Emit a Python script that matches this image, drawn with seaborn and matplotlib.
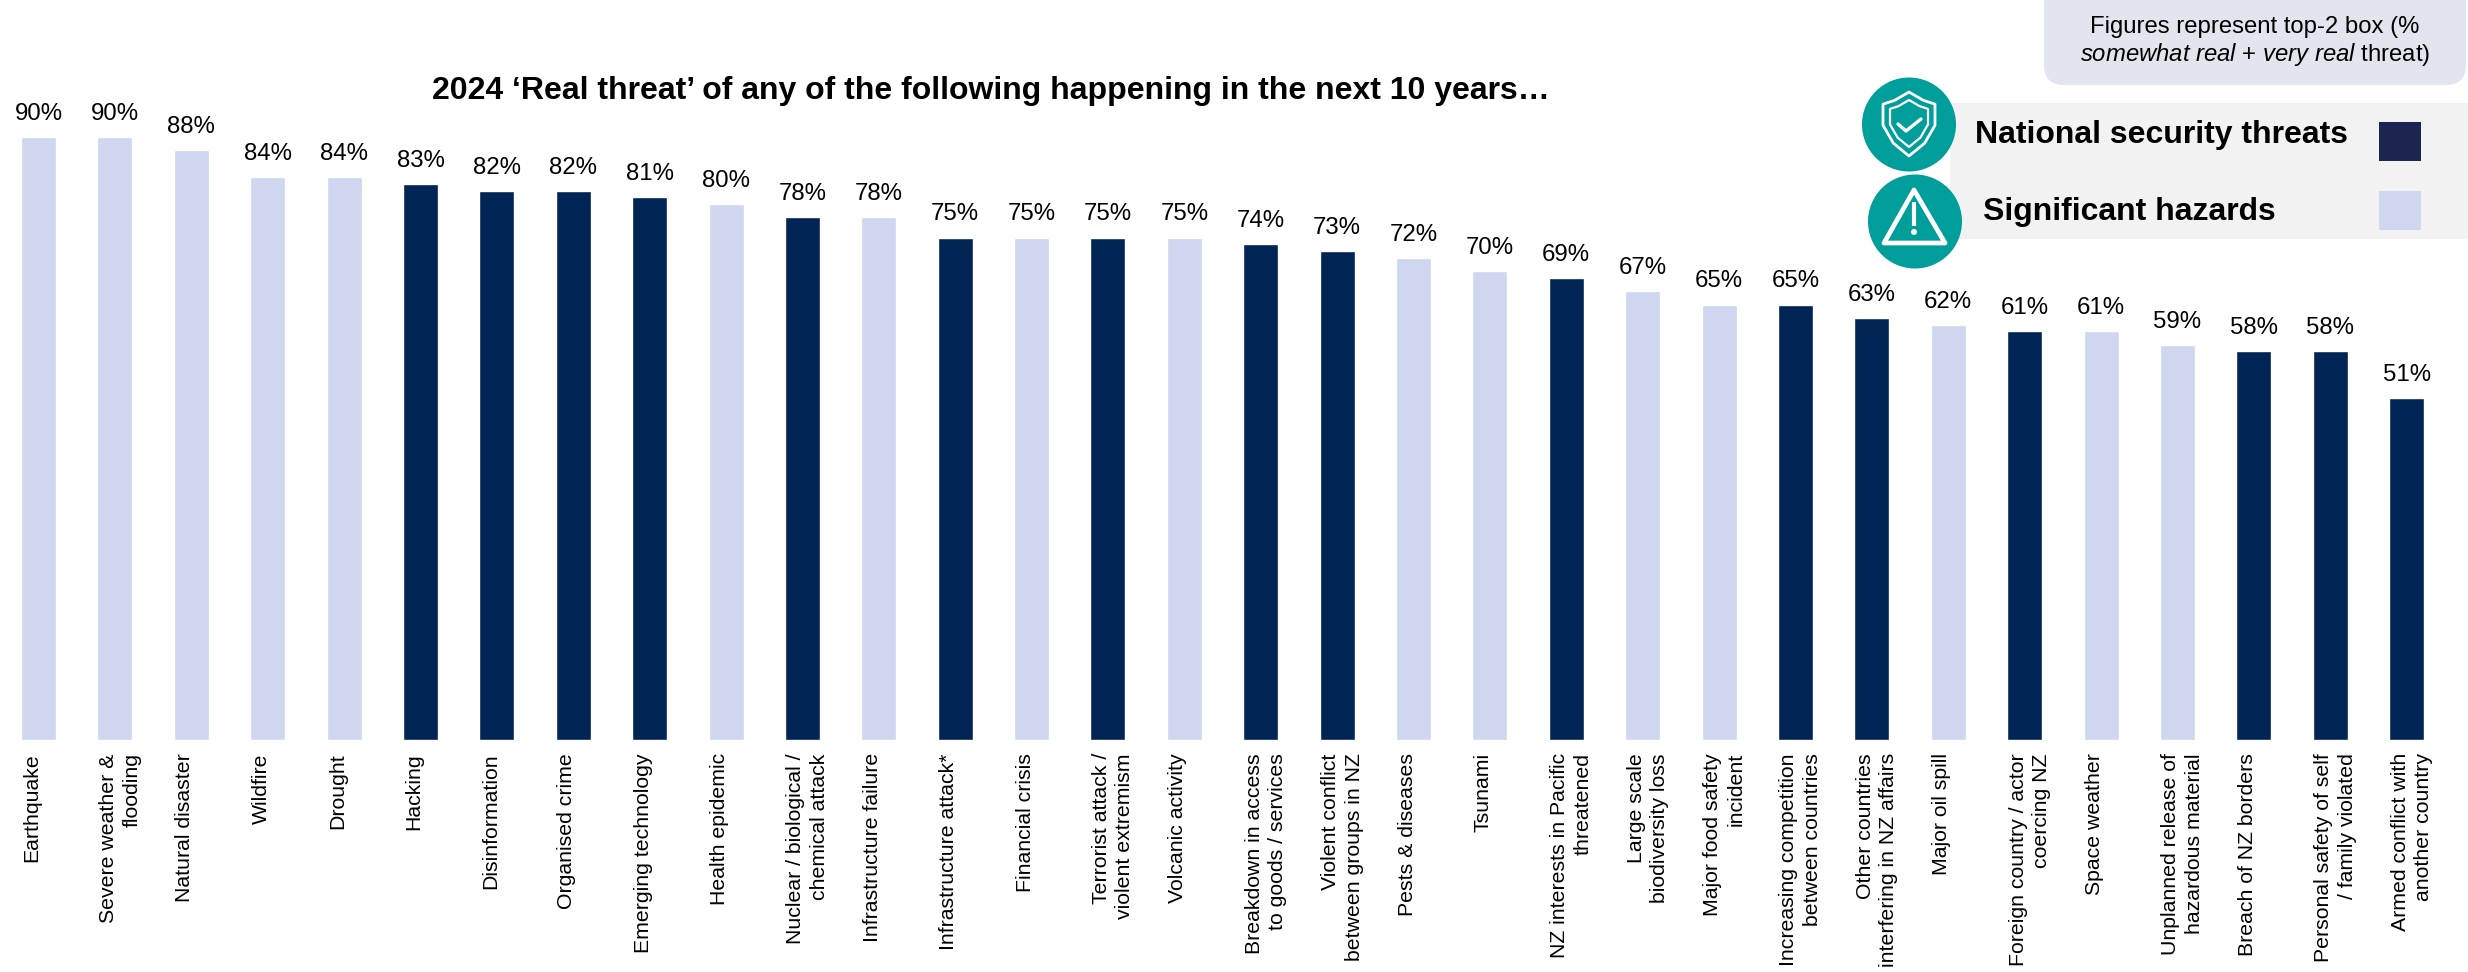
import matplotlib
matplotlib.use("Agg")
import matplotlib.pyplot as plt
import matplotlib.transforms as mtrans
from matplotlib.patches import Circle, FancyBboxPatch, Polygon, Rectangle
import pandas as pd
import seaborn as sns

categories = [
    "Earthquake", "Severe weather &\nflooding", "Natural disaster", "Wildfire", "Drought",
    "Hacking", "Disinformation", "Organised crime", "Emerging technology", "Health epidemic",
    "Nuclear / biological /\nchemical attack", "Infrastructure failure", "Infrastructure attack*",
    "Financial crisis", "Terrorist attack /\nviolent extremism", "Volcanic activity",
    "Breakdown in access\nto goods / services", "Violent conflict\nbetween groups in NZ",
    "Pests & diseases", "Tsunami", "NZ interests in Pacific\nthreatened",
    "Large scale\nbiodiversity loss", "Major food safety\nincident",
    "Increasing competition\nbetween countries", "Other countries\ninterfering in NZ affairs",
    "Major oil spill", "Foreign country / actor\ncoercing NZ", "Space weather",
    "Unplanned release of\nhazardous material", "Breach of NZ borders",
    "Personal safety of self\n/ family violated", "Armed conflict with\nanother country",
]
values = [90, 90, 88, 84, 84, 83, 82, 82, 81, 80, 78, 78, 75, 75, 75, 75,
          74, 73, 72, 70, 69, 67, 65, 65, 63, 62, 61, 61, 59, 58, 58, 51]
THREAT = "National security threats"
HAZARD = "Significant hazards"
groups = [HAZARD, HAZARD, HAZARD, HAZARD, HAZARD, THREAT, THREAT, THREAT, THREAT, HAZARD,
          THREAT, HAZARD, THREAT, HAZARD, THREAT, HAZARD, THREAT, THREAT, HAZARD, HAZARD,
          THREAT, HAZARD, HAZARD, THREAT, THREAT, HAZARD, THREAT, HAZARD, HAZARD, THREAT,
          THREAT, THREAT]
title = "2024 \u2018Real threat\u2019 of any of the following happening in the next 10 years\u2026"

DARK, LIGHT = "#002554", "#CFD6F0"
W, H = 2468, 972

sns.set_theme(style="white")
plt.rcParams["font.family"] = ["Liberation Sans", "DejaVu Sans"]
plt.rcParams["mathtext.fontset"] = "custom"
plt.rcParams["mathtext.it"] = "Liberation Sans:italic"
plt.rcParams["mathtext.rm"] = "Liberation Sans"

df = pd.DataFrame({"category": categories, "value": values, "group": groups})
fig = plt.figure(figsize=(W / 100, H / 100), dpi=100, facecolor="white")

# Plot area fills the canvas width; its floor is the bar baseline.
base_px, per_unit_px, step_px, first_px = 740, 6.7, 76.39, 38.5
ax = fig.add_axes([0, 1 - base_px / H, 1, base_px / H])
sns.barplot(data=df, x="category", y="value", hue="group", dodge=False, width=35 / step_px,
            palette={THREAT: DARK, HAZARD: LIGHT}, legend=False, ax=ax, saturation=1)
ax.set_xlim(-first_px / step_px, (W - first_px) / step_px)
ax.set_ylim(0, base_px / per_unit_px)
ax.set_xlabel("")
ax.set_ylabel("")
ax.set_yticks([])
sns.despine(ax=ax, left=True, bottom=True, top=True, right=True)
ax.patch.set_alpha(0)

for container in ax.containers:
    ax.bar_label(container, fmt="%.0f%%", fontsize=17.3, color="black", padding=8.7)

# Category names read bottom to top, starting near each bar's left edge.
ax.tick_params(axis="x", length=0, pad=9.5)
shift = mtrans.ScaledTranslation(-16 / 100, 0, fig.dpi_scale_trans)
ax.set_xticks(range(len(categories)))
ax.set_xticklabels(categories, rotation=90, ha="left", va="top", ma="right",
                   fontsize=15.3, color="black", linespacing=1.3)
for lab in ax.get_xticklabels():
    lab.set_transform(lab.get_transform() + shift)

# Overlay in canvas pixels for the heading, note and legend panel.
ov = fig.add_axes([0, 0, 1, 1], zorder=5)
ov.set_xlim(0, W)
ov.set_ylim(H, 0)
ov.axis("off")

ov.text(991, 99, title, ha="center", va="baseline", fontsize=23, fontweight="bold", color="black")

ov.add_patch(FancyBboxPatch((2044, -40), 422, 125, boxstyle="round,pad=0,rounding_size=20",
                            fc="#E2E5EE", ec="none"))
ov.text(2255, 33, "Figures represent top-2 box (%", ha="center", va="baseline",
        fontsize=17.2, color="black")
ov.text(2255, 61, r"$\mathit{somewhat\ real}$ + $\mathit{very\ real}$ threat)", ha="center",
        va="baseline", fontsize=17.2, color="black", math_fontfamily="custom")

ov.add_patch(Rectangle((1950, 103), 520, 136, fc="#F2F2F2", ec="none"))
ov.text(1975, 143, THREAT, ha="left", va="baseline", fontsize=23, fontweight="bold", color="black")
ov.text(1983, 220, HAZARD, ha="left", va="baseline", fontsize=23, fontweight="bold", color="black")
ov.add_patch(Rectangle((2379, 122), 42, 39, fc="#1B2550", ec="none"))
ov.add_patch(Rectangle((2379, 191), 42, 39, fc=LIGHT, ec="none"))

TEAL = "#009E9A"
ov.add_patch(Circle((1909, 124.5), 47, fc=TEAL, ec="none"))
ov.add_patch(Circle((1915, 221.5), 47, fc=TEAL, ec="none"))


def shield(cx, top, half, height):
    return [(cx, top), (cx + half * 0.55, top + height * 0.13), (cx + half, top + height * 0.19),
            (cx + half, top + height * 0.52), (cx + half * 0.6, top + height * 0.8),
            (cx, top + height), (cx - half * 0.6, top + height * 0.8),
            (cx - half, top + height * 0.52), (cx - half, top + height * 0.19),
            (cx - half * 0.55, top + height * 0.13)]


ov.add_patch(Polygon(shield(1909, 92, 26, 64), closed=True, fc="none", ec="white", lw=2,
                     joinstyle="round"))
ov.add_patch(Polygon(shield(1909, 100, 19, 47), closed=True, fc="none", ec="white", lw=1.6,
                     joinstyle="round"))
ov.plot([1898, 1906, 1921], [124, 131, 119], color="white", lw=2.4, solid_capstyle="round")

ov.add_patch(Polygon([(1914, 190), (1945, 243), (1884, 243)], closed=True, fc="none",
                     ec="white", lw=3.4, joinstyle="round"))
ov.plot([1914, 1914], [202, 226], color="white", lw=3, solid_capstyle="butt")
ov.add_patch(Circle((1914, 232), 3, fc="white", ec="none"))

fig.savefig("out.png", dpi=100, facecolor="white")
